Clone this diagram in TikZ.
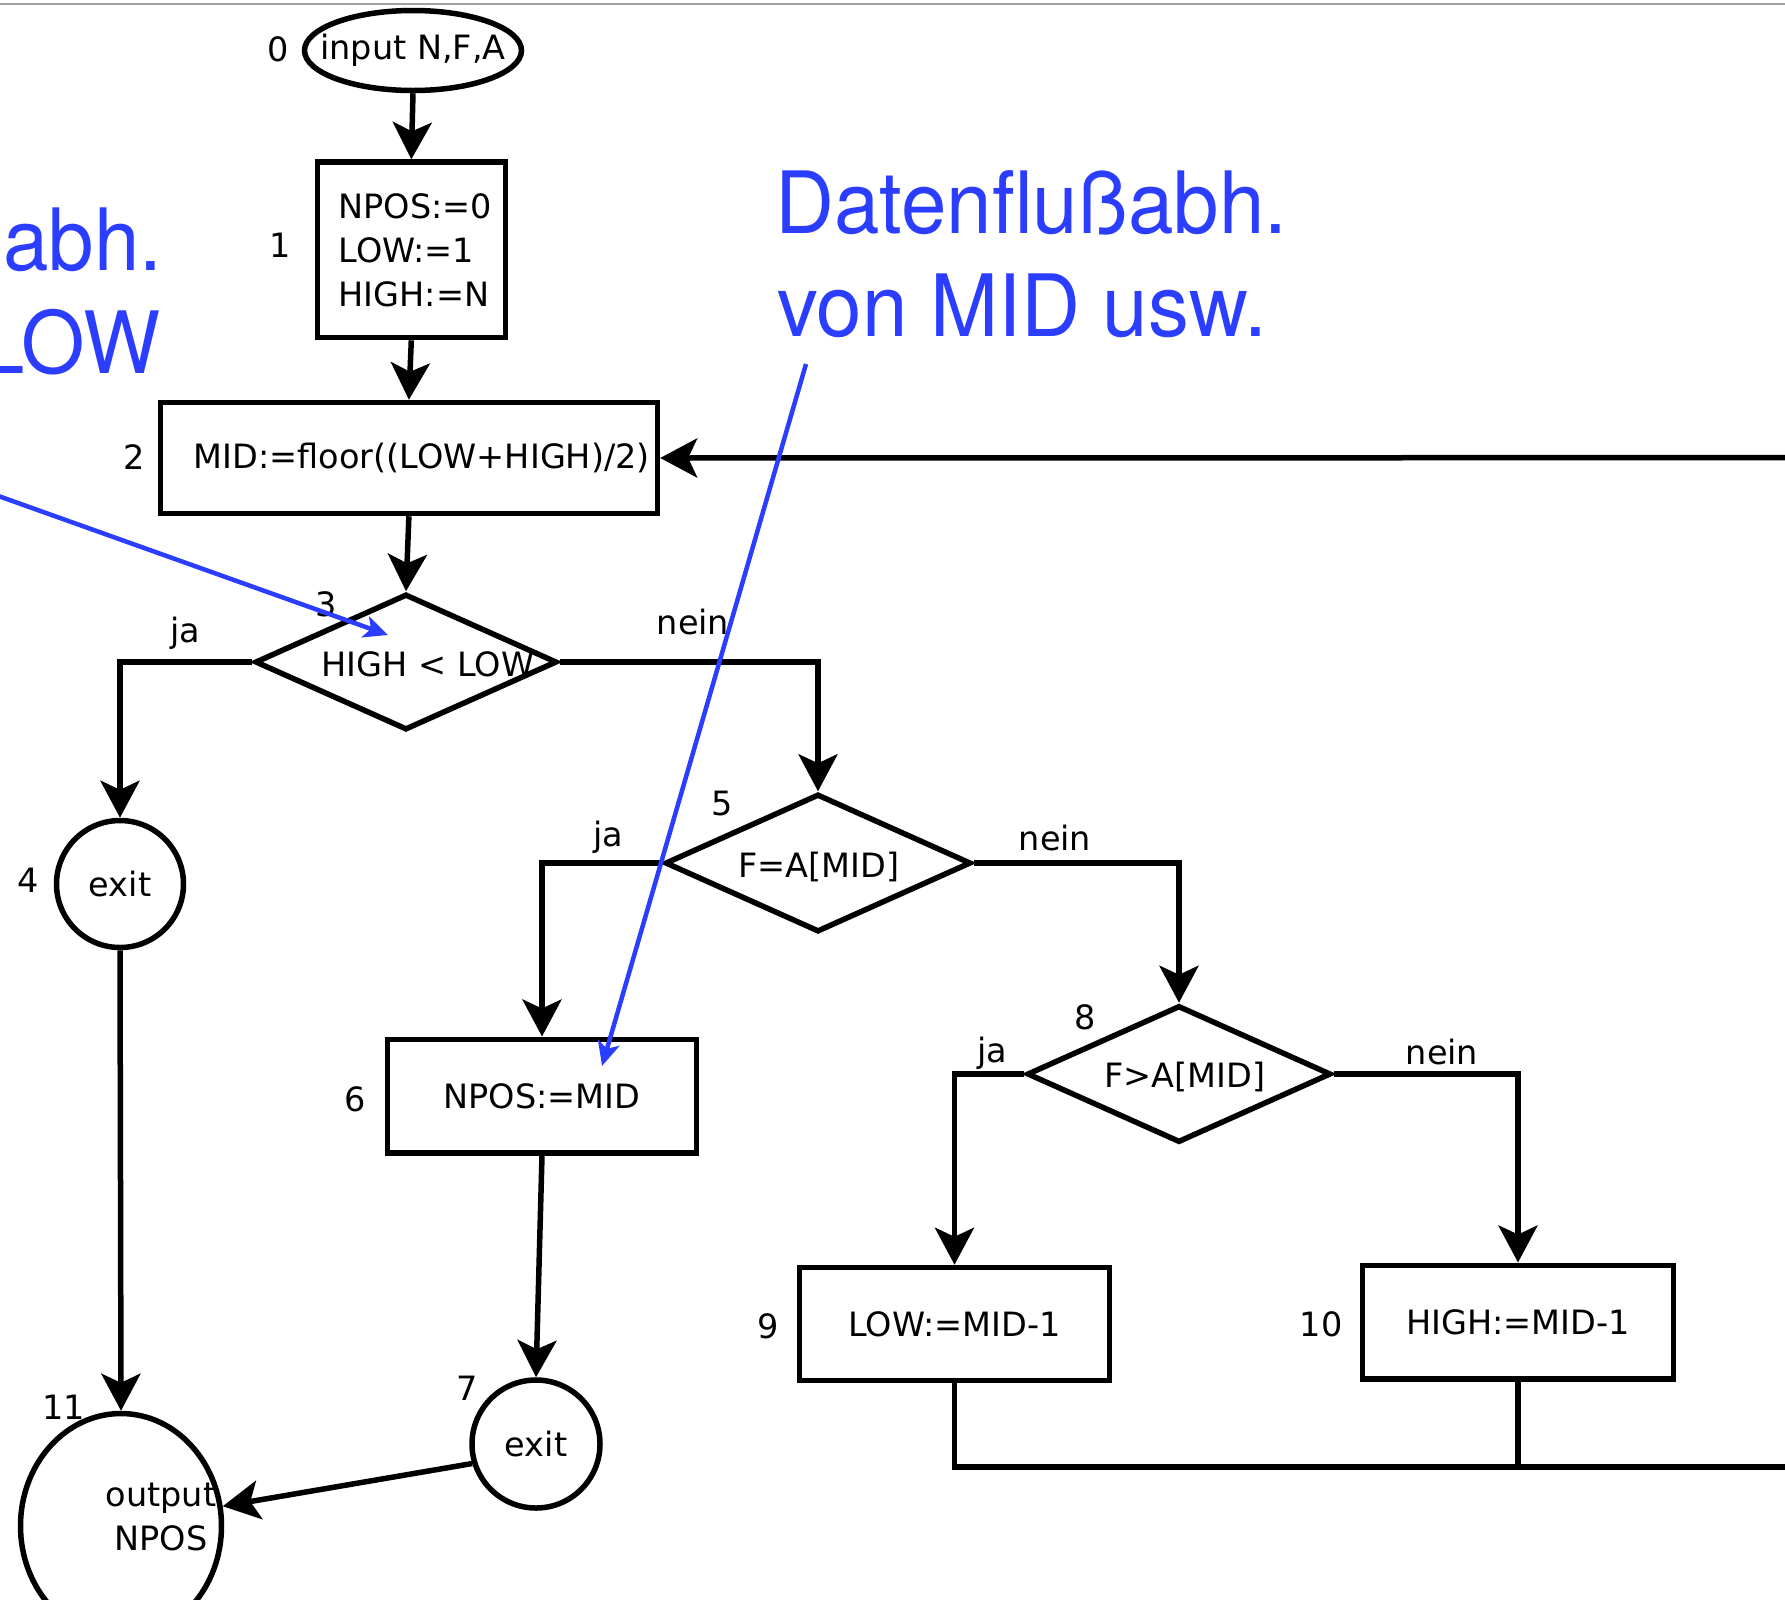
\documentclass[tikz,border=0pt]{standalone}
\usepackage{fontspec}
\usepackage{graphicx}
\setmainfont{DejaVu Sans}
\newfontfamily\bluefont{TeX Gyre Heros}
\usetikzlibrary{shapes.geometric, arrows.meta}
\definecolor{annoblue}{RGB}{43,61,255}
\definecolor{topgrey}{RGB}{160,160,160}

\begin{document}
\begin{tikzpicture}[x=1pt, y=-1pt,
  every node/.style={font=\fontsize{33.5}{44}\selectfont, inner sep=0pt},
  box/.style={draw, rectangle, line width=5.5pt},
  ell/.style={draw, ellipse, line width=5.5pt},
  circ/.style={draw, circle, line width=5.5pt},
  dia/.style={draw, diamond, line width=5.5pt},
  flow/.style={line width=5.5pt, -{Stealth[length=37pt, width=39pt, inset=9pt]}},
  plainline/.style={line width=5.5pt},
  anno/.style={draw=annoblue, line width=4.5pt, -{Stealth[length=24pt, width=22pt, inset=6pt, fill=annoblue]}},
  bigblue/.style={font=\bluefont\fontsize{86}{103}\selectfont, text=annoblue, inner sep=0pt}
]
\useasboundingbox (0,0) rectangle (1785,1599);

% top grey border line
\draw[topgrey, line width=2pt] (0,3.5) -- (1785,3.5);

% ---------- nodes ----------
\node[ell, minimum width=217pt, minimum height=80pt, inner xsep=-20pt] (n0) at (413,50.5) {input N,F,A};
\node[box, minimum width=188pt, minimum height=175.5pt, align=left] (n1) at (411.3,249.8) {\hspace*{8pt}NPOS:=0\\\hspace*{8pt}LOW:=1\\\hspace*{8pt}HIGH:=N};
\node[box, minimum width=497pt, minimum height=111pt] (n2) at (408.9,458) {\hspace*{26pt}MID:=floor((LOW+HIGH)/2)};
\node[dia, minimum width=302pt, minimum height=136pt] (d3) at (406,662) {};
\node (t3) at (428,664) {HIGH {<} LOW};
\node[circ, minimum size=127pt] (n4) at (120,884) {exit};
\node[dia, minimum width=306pt, minimum height=138pt] (d5) at (818,863) {};
\node (t5) at (819,867) {F=A[MID]};
\node[box, minimum width=309pt, minimum height=113.5pt] (n6) at (542,1096) {NPOS:=MID};
\node[circ, minimum size=128pt] (n7) at (536,1444) {exit};
\node[dia, minimum width=304pt, minimum height=137pt] (d8) at (1179,1074) {};
\node (t8) at (1185,1077) {F>A[MID]};
\node[box, minimum width=310pt, minimum height=113pt] (n9) at (954.5,1324) {LOW:=MID-1};
\node[box, minimum width=311pt, minimum height=113.5pt] (n10) at (1518,1322) {HIGH:=MID-1};
\node[ell, minimum width=201pt, minimum height=225pt] (n11) at (121,1526) {};
\node[align=center] (t11) at (161,1517) {output\\NPOS};

% ---------- numbers ----------
\node (l0) at (278,49) {0};
\node (l1) at (280,245.5) {1};
\node (l2) at (134,457) {2};
\node (l3) at (326.5,604) {3};
\node (l4) at (28,880) {4};
\node (l5) at (722.5,804) {5};
\node (l6) at (355,1099) {6};
\node (l7) at (467,1388) {7};
\node (l8) at (1085,1017.5) {8};
\node (l9) at (768,1326) {9};
\node (l10) at (1321,1324) {10};
\node (l11) at (63.5,1407) {11};

% ---------- branch labels ----------
\node (j3) at (185,633) {ja};
\node (ne3) at (693,622) {nein};
\node (j5) at (608,837) {ja};
\node (ne5) at (1055,838) {nein};
\node (j8) at (992,1053) {ja};
\node (ne8) at (1442,1052) {nein};

% ---------- loop coordinates at the right border ----------
\coordinate (loopin) at (1800,457.6);
\coordinate (loopout) at (1800,1467);

% ---------- connectors ----------
\draw[flow] (n0.south) -- (n1.north);
\draw[flow] (n1.south) -- (n2.north);
\draw[flow] (n2.south) -- (d3.north);
\draw[flow] (d3.west) -| (n4.north);
\draw[flow] (d3.east) -| (d5.north);
\draw[flow] (n4.south) -- (n11.north);
\draw[flow] (d5.west) -| (n6.north);
\draw[flow] (d5.east) -| (d8.north);
\draw[flow] (n6.south) -- (n7.north);
\draw[flow] (n7.197) -- (n11.11);
\draw[flow] (d8.west) -| (n9.north);
\draw[flow] (d8.east) -| (n10.north);
\draw[plainline] (n9.south) |- (loopout);
\draw[plainline] (n10.south) -- (n10.south |- loopout);
\draw[flow] (loopin) -- (n2.east);

% ---------- blue annotations ----------
\node[bigblue, anchor=base west] (bt1) at (775,233) {\scalebox{0.95}[1]{Datenflußabh.}};
\node[bigblue, anchor=base west] (bt2) at (777,336) {\scalebox{0.95}[1]{von MID usw.}};
\node[bigblue, anchor=base east] (bt3) at (162.5,270) {\scalebox{0.95}[1]{abh.}};
\node[bigblue, anchor=base east] (bt4) at (160.5,373) {\scalebox{0.95}[1]{LOW}};

\coordinate (a1s) at (-10,493);
\coordinate (a1e) at (388,635);
\coordinate (a2s) at (806,364);
\coordinate (a2e) at (602,1066);
\draw[anno] (a1s) -- (a1e);
\draw[anno] (a2s) -- (a2e);
\end{tikzpicture}
\end{document}
